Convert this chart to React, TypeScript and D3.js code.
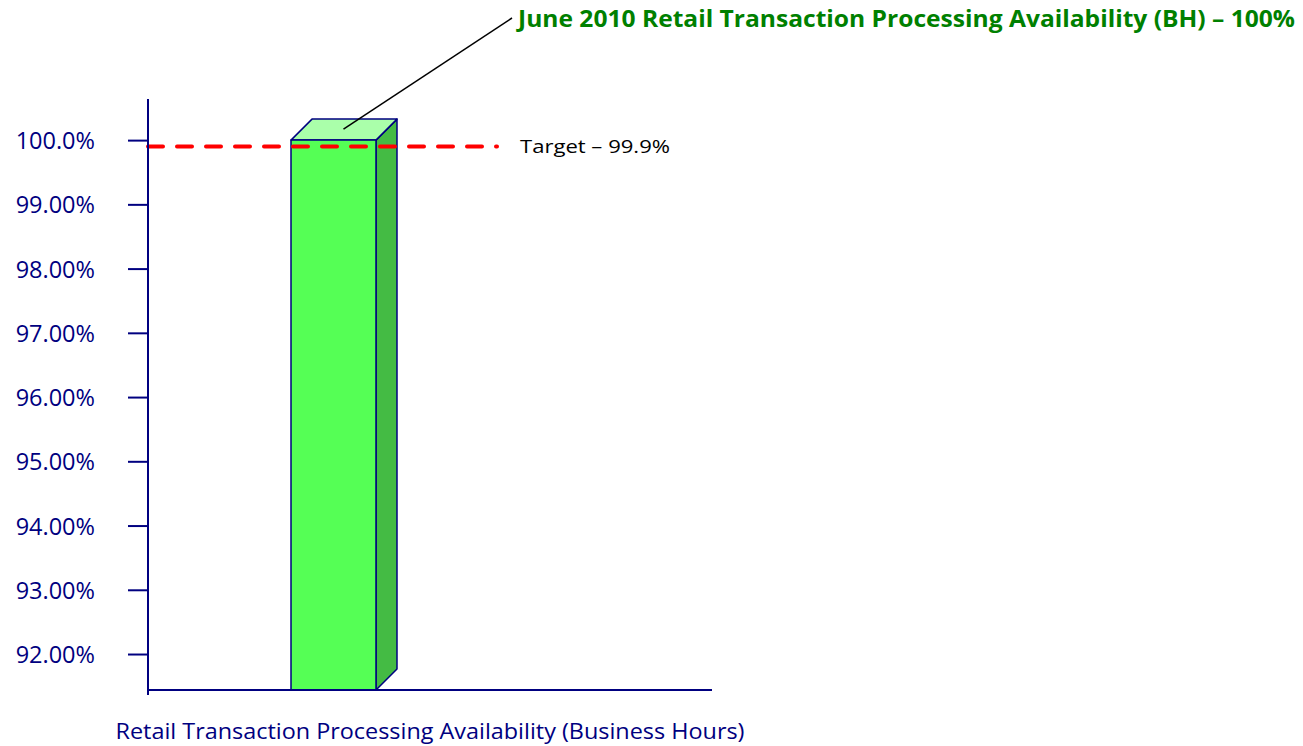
import { useEffect, useRef } from 'react'
import * as d3 from 'd3'

const categories = ['Retail Transaction Processing Availability (Business Hours)']
const values = [100]
const target = 99.9
const tickValues = [100, 99, 98, 97, 96, 95, 94, 93, 92]
const tickLabels = ['100.0%', '99.00%', '98.00%', '97.00%', '96.00%', '95.00%', '94.00%', '93.00%', '92.00%']
const title = 'June 2010 Retail Transaction Processing Availability (BH) – 100%'
const targetLabel = 'Target – 99.9%'

const NAVY = '#000080'
const FONT = 'Open Sans, Noto Sans, sans-serif'

export default function App() {
  const svgRef = useRef<SVGSVGElement>(null)

  useEffect(() => {
    if (!svgRef.current) return
    const width = 1303
    const height = 746
    const svg = d3.select(svgRef.current)
    svg.selectAll('*').remove()
    svg.attr('width', width).attr('height', height)

    const axisX = 148
    const axisRight = 712
    const yScale = d3.scaleLinear().domain([91.44, 100.64]).range([690, 99])
    const xScale = d3.scaleBand().domain(categories).range([axisX, 519]).padding(0.6272)
    const depth = 21

    // Bars (3D)
    categories.forEach((c, i) => {
      const x0 = xScale(c)!
      const w = xScale.bandwidth()
      const yTop = yScale(values[i])
      const yBot = yScale.range()[0]
      const g = svg.append('g').attr('stroke', NAVY).attr('stroke-width', 1.5).attr('stroke-linejoin', 'round')
      g.append('path')
        .attr('d', `M${x0 + w},${yTop} L${x0 + w + depth},${yTop - depth} L${x0 + w + depth},${yBot - depth} L${x0 + w},${yBot} Z`)
        .attr('fill', '#44BB44')
      g.append('path')
        .attr('d', `M${x0},${yTop} L${x0 + depth},${yTop - depth} L${x0 + w + depth},${yTop - depth} L${x0 + w},${yTop} Z`)
        .attr('fill', '#AAFFAA')
      g.append('rect')
        .attr('x', x0).attr('y', yTop).attr('width', w).attr('height', yBot - yTop)
        .attr('fill', '#55FF55')
    })

    // Target line
    const ty = yScale(target)
    svg.append('line')
      .attr('x1', axisX).attr('x2', 497).attr('y1', ty).attr('y2', ty)
      .attr('stroke', '#FF0000').attr('stroke-width', 4)
      .attr('stroke-dasharray', '15 14').attr('stroke-linecap', 'round')
    svg.append('text')
      .attr('x', 520).attr('y', ty + 6)
      .attr('font-family', FONT).attr('font-size', 19).attr('fill', '#000')
      .attr('textLength', 150).attr('lengthAdjust', 'spacingAndGlyphs')
      .text(targetLabel)

    // Y axis
    const yAxis = svg.append('g')
      .attr('transform', `translate(${axisX},0)`)
      .call(d3.axisLeft(yScale).tickValues(tickValues).tickSize(20).tickPadding(33)
        .tickFormat((_, i) => tickLabels[i]))
    yAxis.select('.domain').remove()
    yAxis.selectAll('line').attr('stroke', NAVY).attr('stroke-width', 2)
    yAxis.selectAll('text')
      .attr('fill', NAVY).attr('font-size', 23.5).attr('font-family', FONT)
      .attr('dy', '0.36em')
    svg.append('line')
      .attr('x1', axisX).attr('x2', axisX).attr('y1', 99).attr('y2', 695)
      .attr('stroke', NAVY).attr('stroke-width', 2)

    // X axis
    svg.append('line')
      .attr('x1', axisX).attr('x2', axisRight).attr('y1', 690).attr('y2', 690)
      .attr('stroke', NAVY).attr('stroke-width', 2)
    svg.append('text')
      .attr('x', (axisX + axisRight) / 2).attr('y', 739)
      .attr('text-anchor', 'middle')
      .attr('font-family', FONT).attr('font-size', 22).attr('fill', NAVY)
      .attr('textLength', 629).attr('lengthAdjust', 'spacingAndGlyphs')
      .text(categories[0])

    // Title annotation
    const x0 = xScale(categories[0])!
    svg.append('line')
      .attr('x1', x0 + xScale.bandwidth() / 2 + 10).attr('y1', yScale(values[0]) - 11)
      .attr('x2', 512).attr('y2', 18)
      .attr('stroke', '#000').attr('stroke-width', 1.5)
    svg.append('text')
      .attr('x', 518).attr('y', 27)
      .attr('font-family', FONT).attr('font-size', 24).attr('font-weight', 'bold').attr('fill', '#008000')
      .attr('textLength', 777).attr('lengthAdjust', 'spacingAndGlyphs')
      .text(title)
  }, [])

  return (
    <div style={{ position: 'absolute', left: 0, top: 0 }}>
      <svg ref={svgRef} style={{ display: 'block' }} />
    </div>
  )
}
